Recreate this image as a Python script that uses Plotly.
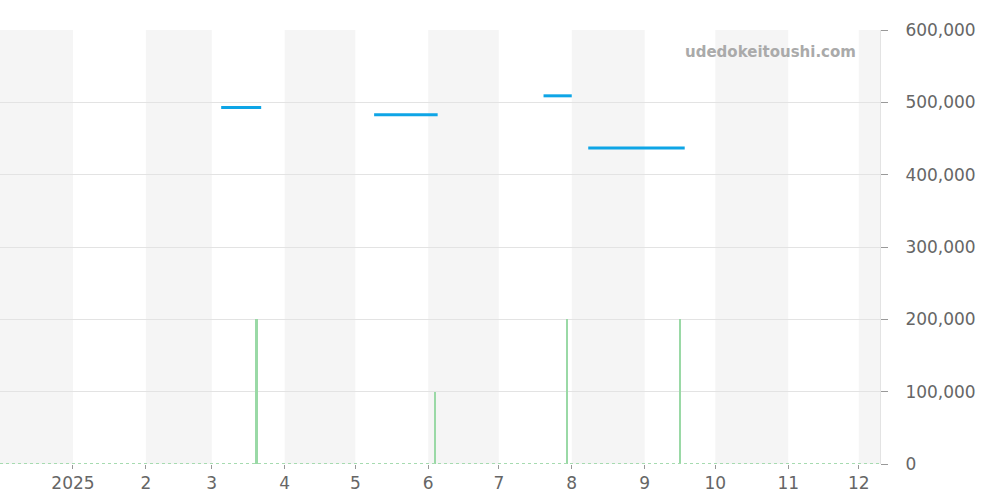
import plotly.graph_objects as go

# ---- data ----
price_start = ["2025-03-05", "2025-05-09", "2025-07-20", "2025-08-08"]
price_end = ["2025-03-22", "2025-06-05", "2025-08-01", "2025-09-18"]
price_values = [493000, 483000, 509000, 437000]

volume_dates = ["2025-03-20", "2025-06-04", "2025-07-30", "2025-09-16"]
volume_values = [200000, 100000, 200000, 200000]

x_range = ["2024-12-01", "2025-12-10"]
tick_dates = ["2025-01-01", "2025-02-01", "2025-03-01", "2025-04-01", "2025-05-01", "2025-06-01",
              "2025-07-01", "2025-08-01", "2025-09-01", "2025-10-01", "2025-11-01", "2025-12-01"]
tick_labels = ["2025", "2", "3", "4", "5", "6", "7", "8", "9", "10", "11", "12"]
shade_starts = ["2024-12-01", "2025-02-01", "2025-04-01", "2025-06-01", "2025-08-01", "2025-10-01", "2025-12-01"]
shade_ends = ["2025-01-01", "2025-03-01", "2025-05-01", "2025-07-01", "2025-09-01", "2025-11-01", "2025-12-10"]
y_ticks = [0, 100000, 200000, 300000, 400000, 500000, 600000]
y_labels = ["0", "100,000", "200,000", "300,000", "400,000", "500,000", "600,000"]

# ---- build ----
px, py = [], []
for s, e, v in zip(price_start, price_end, price_values):
    px += [s, e, None]
    py += [v, v, None]

fig = go.Figure()
fig.add_trace(go.Scatter(x=x_range, y=[0, 0], mode="lines",
                         line=dict(color="#a6dbb0", width=2, dash="dot"),
                         hoverinfo="skip", showlegend=False))
fig.add_trace(go.Bar(x=volume_dates, y=volume_values, width=86400000 * 0.9,
                     marker=dict(color="#9ad9a6", line=dict(width=0)), showlegend=False))
fig.add_trace(go.Scatter(x=px, y=py, mode="lines", connectgaps=False,
                         line=dict(color="#0ea5e6", width=3), showlegend=False))

shapes = []
for s, e in zip(shade_starts, shade_ends):
    shapes.append(dict(type="rect", xref="x", yref="paper", x0=s, x1=e, y0=0, y1=1,
                       fillcolor="#f5f5f5", line=dict(width=0), layer="below"))

fig.update_layout(
    width=1000, height=500,
    margin=dict(l=0, r=120, t=30, b=36),
    plot_bgcolor="white", paper_bgcolor="white",
    font=dict(family="DejaVu Sans", color="#666666", size=17),
    shapes=shapes,
    bargap=0,
    xaxis=dict(type="date", range=x_range, tickvals=tick_dates, ticktext=tick_labels,
               showgrid=False, zeroline=False, ticks="outside", ticklen=4, automargin=False,
               tickcolor="#999999", showline=False, tickfont=dict(size=17, color="#666666")),
    yaxis=dict(side="right", range=[0, 600000], tickvals=y_ticks, ticktext=y_labels,
               showgrid=True, gridcolor="#e3e3e3", gridwidth=1, zeroline=False, automargin=False,
               ticks="outside", ticklen=7, tickcolor="#999999",
               showline=True, linecolor="#e3e3e3", linewidth=1,
               ticklabelstandoff=14,
               tickfont=dict(size=17, color="#666666")),
    annotations=[dict(text="<b>udedokeitoushi.com</b>", xref="paper", yref="paper",
                      x=0.975, y=0.975, xanchor="right", yanchor="top", showarrow=False,
                      font=dict(size=15, color="#aaaaaa", family="DejaVu Sans"))],
)

fig.write_html("out.html", config={"displayModeBar": False},
               post_script="document.body.style.margin='0';")
